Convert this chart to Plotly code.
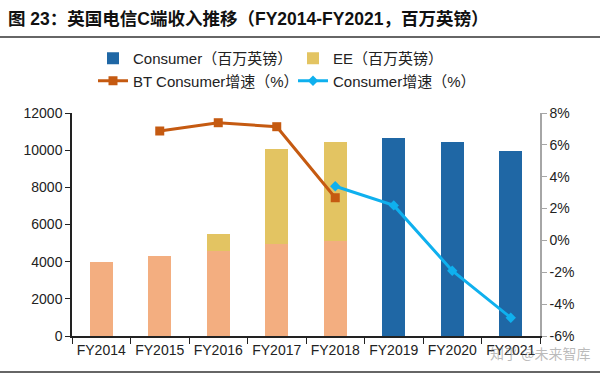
import plotly.graph_objects as go

categories = ["FY2014", "FY2015", "FY2016", "FY2017", "FY2018", "FY2019", "FY2020", "FY2021"]
bt_consumer_rev = [4000, 4300, 4550, 4940, 5100, None, None, None]
ee_rev = [None, None, 930, 5140, 5330, None, None, None]
consumer_rev = [None, None, None, None, None, 10650, 10450, 9950]
bt_consumer_growth = [None, 6.87, 7.39, 7.14, 2.68, None, None, None]
consumer_growth = [None, None, None, None, 3.4, 2.2, -1.9, -4.85]
left_ticks = [0, 2000, 4000, 6000, 8000, 10000, 12000]
right_ticks = [-6, -4, -2, 0, 2, 4, 6, 8]

W, H = 600, 375
L, R, T, B = 72, 60, 113, 39
pw, ph = W - L - R, H - T - B

FONT = "Liberation Sans, Arial, Noto Sans CJK SC, sans-serif"

fig = go.Figure()
fig.add_trace(go.Bar(x=categories, y=consumer_rev, name="Consumer（百万英镑）",
                     marker_color="#1F67A5", marker_line_width=0))
fig.add_trace(go.Bar(x=categories, y=bt_consumer_rev, name="BT Consumer",
                     marker_color="#F3AE80", marker_line_width=0, showlegend=False))
fig.add_trace(go.Bar(x=categories, y=ee_rev, name="EE（百万英镑）",
                     marker_color="#E3C462", marker_line_width=0))
fig.add_trace(go.Scatter(x=categories, y=bt_consumer_growth, name="BT Consumer增速（%）",
                         yaxis="y2", mode="lines+markers",
                         line=dict(color="#C55A11", width=3),
                         marker=dict(symbol="square", size=9, color="#C55A11")))
fig.add_trace(go.Scatter(x=categories, y=consumer_growth, name="Consumer增速（%）",
                         yaxis="y2", mode="lines+markers",
                         line=dict(color="#0FB0EE", width=3),
                         marker=dict(symbol="diamond", size=8, color="#0FB0EE")))

def py(px):
    return (H - B - px) / ph

def pxx(px):
    return (px - L) / pw

fig.update_layout(
    width=W, height=H,
    margin=dict(l=L, r=R, t=T, b=B, pad=0, autoexpand=False),
    paper_bgcolor="white", plot_bgcolor="white",
    barmode="stack", bargap=0.6,
    font=dict(family=FONT, size=14, color="#222222"),
    showlegend=True,
    legend=dict(orientation="h", x=pxx(93), y=py(42), xanchor="left", yanchor="top",
                entrywidth=155, entrywidthmode="pixels", traceorder="normal",
                font=dict(size=15, color="#222222"), bgcolor="rgba(0,0,0,0)",
                itemwidth=30, tracegroupgap=0),
    xaxis=dict(type="category", showline=True, linecolor="#222222", linewidth=1.5,
               ticks="outside", tickson="boundaries", ticklen=6, tickcolor="#222222",
               showgrid=False, tickfont=dict(size=14)),
    yaxis=dict(range=[0, 12000], tickvals=left_ticks, ticktext=[str(v) for v in left_ticks],
               showline=True, linecolor="#222222",
               linewidth=1.5, ticks="outside", ticklen=5, tickcolor="#222222",
               showgrid=False, zeroline=False, tickfont=dict(size=14)),
    yaxis2=dict(range=[-6, 8], tickvals=right_ticks, ticktext=[f"{v}%" for v in right_ticks],
                overlaying="y", side="right", showline=True, linecolor="#A6A6A6",
                linewidth=1.5, ticks="outside", ticklen=5, tickcolor="#A6A6A6",
                showgrid=False, zeroline=False, tickfont=dict(size=14)),
    shapes=[
        dict(type="line", xref="paper", yref="paper", x0=pxx(0), x1=pxx(600),
             y0=py(37), y1=py(37), line=dict(color="#333333", width=1.5)),
        dict(type="line", xref="paper", yref="paper", x0=pxx(0), x1=pxx(600),
             y0=py(372), y1=py(372), line=dict(color="#333333", width=1.5)),
    ],
    annotations=[
        dict(text="<b>图 23：英国电信C端收入推移（FY2014-FY2021，百万英镑）</b>",
             xref="paper", yref="paper", x=pxx(6), y=py(19), xanchor="left", yanchor="middle",
             showarrow=False, font=dict(size=17.5, color="#111111",
                                        family="Liberation Sans, Noto Sans CJK SC, sans-serif")),
        dict(text="知乎 @未来智库", xref="paper", yref="paper", x=pxx(592), y=py(353),
             xanchor="right", yanchor="middle", showarrow=False,
             font=dict(size=14, color="rgba(120,120,120,0.5)",
                       family="Noto Sans CJK SC, sans-serif")),
    ],
)

fig.write_html("out.html", config={"displayModeBar": False},
               post_script="document.body.style.margin='0';document.body.style.padding='0';")
